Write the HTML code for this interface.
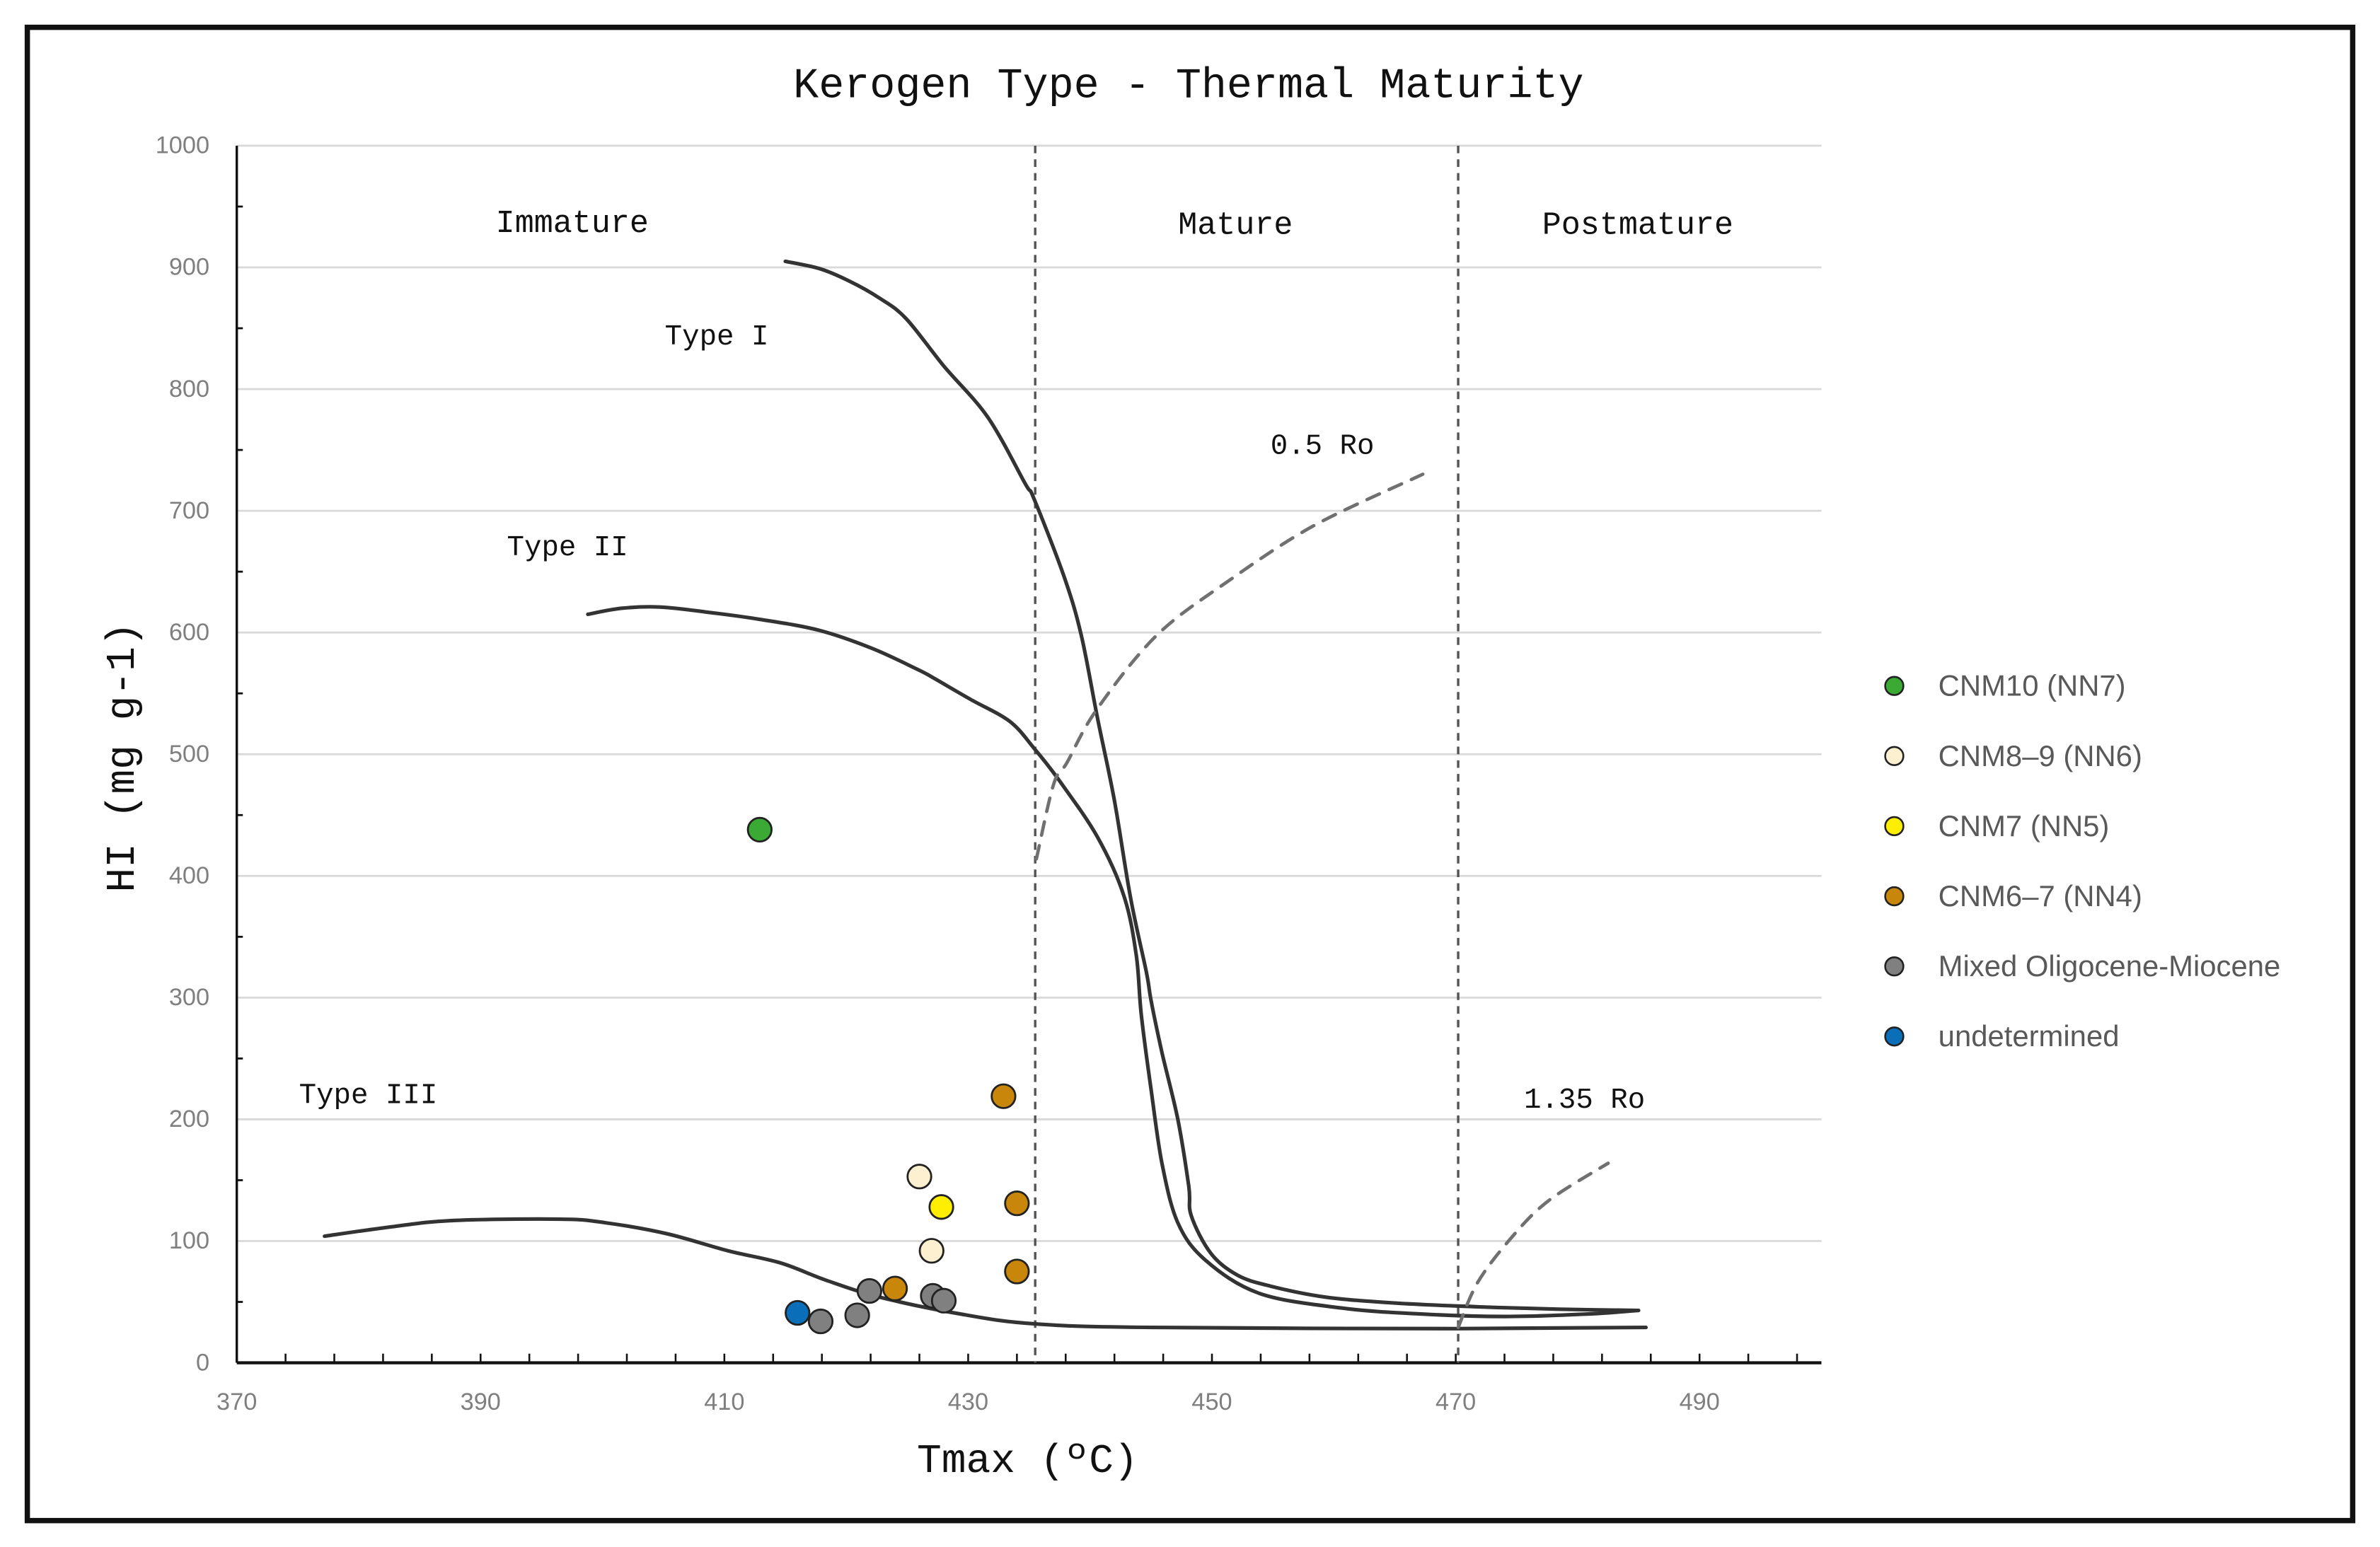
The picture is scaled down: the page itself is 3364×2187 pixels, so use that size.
<!DOCTYPE html>
<html><head><meta charset="utf-8">
<style>
html,body{margin:0;padding:0;background:#fff;}
svg{display:block;}
.mono{font-family:"Liberation Mono","DejaVu Sans Mono",monospace;fill:#111;}
.tick{font-family:"Liberation Sans",sans-serif;fill:#7f7f7f;font-size:16px;}
.leg{font-family:"Liberation Sans",sans-serif;fill:#595959;font-size:19.5px;}
</style></head>
<body>
<svg id="chart" width="3364" height="2187" viewBox="0 0 1568 1019.4" preserveAspectRatio="none" xmlns="http://www.w3.org/2000/svg">
<rect x="18" y="18" width="1532" height="984" fill="#fff" stroke="#111" stroke-width="3.5"/>
<text class="mono" x="783" y="64" font-size="28" text-anchor="middle">Kerogen Type - Thermal Maturity</text>
<g id="grid"></g>
<g id="axes"></g>
<g id="curves"></g>
<g id="points"></g>
<g id="labels">
<text class="mono" x="377" y="153" font-size="21" text-anchor="middle">Immature</text>
<text class="mono" x="814" y="154" font-size="21" text-anchor="middle">Mature</text>
<text class="mono" x="1079" y="154" font-size="21" text-anchor="middle">Postmature</text>
<text class="mono" x="438" y="227" font-size="19">Type I</text>
<text class="mono" x="334" y="366" font-size="19">Type II</text>
<text class="mono" x="197" y="727" font-size="19">Type III</text>
<text class="mono" x="837" y="299" font-size="19">0.5 Ro</text>
<text class="mono" x="1004" y="730" font-size="19">1.35 Ro</text>
<text class="mono" font-size="27" text-anchor="middle" transform="translate(88,499) rotate(-90)">HI (mg g-1)</text>
<text class="mono" x="677" y="970" font-size="27" text-anchor="middle">Tmax (ºC)</text>
</g>
<g id="legend"></g>
</svg>
<script>
const xTicks=[370,390,410,430,450,470,490];
const yTicks=[0,100,200,300,400,500,600,700,800,900,1000];
const boundaries=[435.5,470.2];
const typeI_T=[415,417.8,420.2,422.7,424.9,428,431.6,434.7,435.4,437.9,439.3,440.6,442,443.3,444.6,445,445.9,447.2,448.1,448.3,449.9,452.1,454.8,459.3,465.1,471.8,478.5,485];
const typeI_HI=[905,899,889,875,858,819,777,722,710,645,597,530,462,383,322,298,255,200,145,121,90,72,63,54,49,46,44,43];
const typeII_T=[398.8,401.6,404.7,408.4,412.8,417.7,422.1,425.8,427.1,430.2,433.4,435.4,437.5,440.6,442.8,443.8,444.2,445,445.9,447.2,449.5,453.9,460.6,467.3,474,480.7,485];
const typeII_HI=[615,620,621,617,611,602,587,570,563,545,527,505,478,432,383,334,286,225,164,115,84,57,45,40,38,40,43];
const typeIII_T=[377.2,382.9,387.9,396.6,400.3,405.3,410.3,414.6,418.3,422.7,429.4,435.4,445,470,485.6];
const typeIII_HI=[104,112,117,118,115,106,92,82,68,54,40,32,29,28,29];
const ro05_T=[435.6,437,438.1,440.5,445.4,451.3,458.4,467.3];
const ro05_HI=[414,475,493,536,597,642,688,730];
const ro135_T=[470.2,471.8,474.5,477.6,482.5];
const ro135_HI=[29,66,102,133,164];
const seriesNames=["CNM10 (NN7)","CNM8–9 (NN6)","CNM7 (NN5)","CNM6–7 (NN4)","Mixed Oligocene-Miocene","undetermined"];
const seriesColors=["#3aaa35","#fdf0d0","#ffee00","#c8860a","#808080","#0a6fb8"];
const ptT=[412.9,426.0,427.0,427.8,432.9,434.0,434.0,424.0,421.9,427.1,428.0,417.9,420.9,416.0];
const ptHI=[438,153,92,128,219,131,75,61,59,55,51,34,39,41];
const ptSeries=[0,1,1,2,3,3,3,3,4,4,4,4,4,5];

const X0=156,X1=1200,Y0=898,Y1=96,TMIN=370,TMAX=500,HMAX=1000;
const sx=t=>X0+(t-TMIN)/(TMAX-TMIN)*(X1-X0);
const sy=h=>Y0-h/HMAX*(Y0-Y1);
const NS="http://www.w3.org/2000/svg";
function mk(tag,parent,attrs){const e=document.createElementNS(NS,tag);for(const k in attrs)e.setAttribute(k,attrs[k]);parent.appendChild(e);return e;}
const grid=document.getElementById('grid'),axes=document.getElementById('axes'),curves=document.getElementById('curves'),points=document.getElementById('points'),legend=document.getElementById('legend');
yTicks.forEach(v=>{
  if(v>0){const g=mk('line',grid,{x1:X0,x2:X1,y1:sy(v),y2:sy(v),stroke:'#d9d9d9','stroke-width':1.3});
  
  }
  const t=mk('text',axes,{x:138,y:sy(v)+5,class:'tick','text-anchor':'end'});t.textContent=v;
  
  
});
for(let v=50;v<HMAX;v+=100){const m=mk('line',axes,{x1:X0,x2:X0+4,y1:sy(v),y2:sy(v),stroke:'#111','stroke-width':1.3});
  
  }
for(let v=TMIN+4;v<TMAX;v+=4){const m=mk('line',axes,{x1:sx(v),x2:sx(v),y1:Y0,y2:Y0-6,stroke:'#111','stroke-width':1.2});
  
  }
xTicks.forEach(v=>{const t=mk('text',axes,{x:sx(v),y:929,class:'tick','text-anchor':'middle'});t.textContent=v;
  
  });
const ya=mk('line',axes,{x1:X0,x2:X0,y1:Y1,y2:Y0,stroke:'#111','stroke-width':1.6});


const xa=mk('line',axes,{x1:X0,x2:X1,y1:Y0,y2:Y0,stroke:'#111','stroke-width':2});


boundaries.forEach((b,i)=>{const l=mk('line',curves,{x1:sx(b),x2:sx(b),y1:Y1,y2:Y0,stroke:'#555','stroke-width':1.6,'stroke-dasharray':'5,4'});
  
  });
function smoothPath(P){
  let d='M'+P[0][0].toFixed(1)+','+P[0][1].toFixed(1);
  for(let i=0;i<P.length-1;i++){
    const p0=P[Math.max(0,i-1)],p1=P[i],p2=P[i+1],p3=P[Math.min(P.length-1,i+2)];
    const c1=[p1[0]+(p2[0]-p0[0])/6,p1[1]+(p2[1]-p0[1])/6];
    const c2=[p2[0]-(p3[0]-p1[0])/6,p2[1]-(p3[1]-p1[1])/6];
    d+=' C'+c1[0].toFixed(1)+','+c1[1].toFixed(1)+' '+c2[0].toFixed(1)+','+c2[1].toFixed(1)+' '+p2[0].toFixed(1)+','+p2[1].toFixed(1);
  }
  return d;
}
function line(T,H,name,dashed){
  const P=T.map((t,i)=>[sx(t),sy(H[i])]);
  const p=mk('path',curves,{d:smoothPath(P),fill:'none',stroke:dashed?'#707070':'#333','stroke-width':dashed?2.2:2.4,'stroke-linejoin':'round','stroke-linecap':'round'});
  if(dashed)p.setAttribute('stroke-dasharray','9,7');
  
  
}
line(typeI_T,typeI_HI,'type-i-curve',false);
line(typeII_T,typeII_HI,'type-ii-curve',false);
line(typeIII_T,typeIII_HI,'type-iii-curve',false);
line(ro05_T,ro05_HI,'ro-0.5-curve',true);
line(ro135_T,ro135_HI,'ro-1.35-curve',true);
ptT.forEach((t,i)=>{const c=mk('circle',points,{cx:sx(t),cy:sy(ptHI[i]),r:7.8,fill:seriesColors[ptSeries[i]],stroke:'#222','stroke-width':1.3});
  
  });
seriesNames.forEach((n,i)=>{const y=452+i*46.2;
  const c=mk('circle',legend,{cx:1248,cy:y,r:6,fill:seriesColors[i],stroke:'#222','stroke-width':1.2});
  
  
  const t=mk('text',legend,{x:1277,y:y+6.5,class:'leg'});t.textContent=n;
  
  });
</script>
</body></html>
